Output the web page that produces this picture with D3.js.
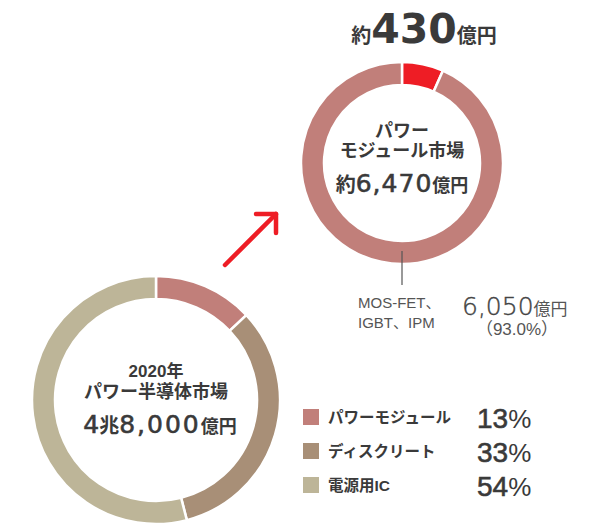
<!DOCTYPE html>
<html>
<head>
<meta charset="utf-8">
<script src="https://cdn.jsdelivr.net/npm/d3@7"></script>
<style>
  body { margin: 0; background: #fff; }
  svg text { font-family: "Liberation Sans", "Noto Sans CJK JP", sans-serif; fill: #3a3a3a; }
  svg .num { font-family: "DejaVu Sans", sans-serif; }
</style>
</head>
<body>
<div id="chart"></div>
<script>
// 2020 power semiconductor market
var marketLabels = ["パワーモジュール", "ディスクリート", "電源用IC"];
var marketShares = [13, 33, 54];
var marketColors = ["#c17f7a", "#a88f77", "#bdb598"];

// power module market breakdown (億円)
var moduleLabels = ["その他", "MOS-FET、IGBT、IPM"];
var moduleValues = [430, 6050];
var moduleColors = ["#ee1d25", "#c17f7a"];

var width = 611, height = 529;

var svg = d3.select("#chart")
    .append("svg")
    .attr("width", width)
    .attr("height", height);

var pie = d3.pie().sort(null).value(function(d){ return d; });

// ---- bottom donut
var big = svg.append("g")
    .attr("transform", "translate(156, 400)");

var bigArc = d3.arc().innerRadius(101).outerRadius(124);

big.selectAll("path")
    .data(pie(marketShares))
    .enter()
    .append("path")
        .attr("d", bigArc)
        .attr("fill", function(d, i){ return marketColors[i]; })
        .attr("stroke", "#fff")
        .attr("stroke-width", 2.5);

big.append("text")
    .attr("y", -23)
    .attr("text-anchor", "middle")
    .attr("font-size", "17px")
    .attr("font-weight", "bold")
    .text("2020年");
big.append("text")
    .attr("y", -2)
    .attr("text-anchor", "middle")
    .attr("font-size", "18px")
    .attr("font-weight", "bold")
    .text("パワー半導体市場");
var totalText = big.append("text")
    .attr("x", 4)
    .attr("y", 33)
    .attr("text-anchor", "middle");
totalText.append("tspan").attr("class", "num").attr("font-size", "25px")
    .attr("stroke", "#3a3a3a").attr("stroke-width", 0.6).text("4");
totalText.append("tspan").attr("font-size", "20px").attr("font-weight", "bold").text("兆");
totalText.append("tspan").attr("class", "num").attr("font-size", "25px").attr("letter-spacing", "2px")
    .attr("stroke", "#3a3a3a").attr("stroke-width", 0.6).text("8,000");
totalText.append("tspan").attr("font-size", "18px").attr("font-weight", "bold").text("億円");

// ---- top donut
var small = svg.append("g")
    .attr("transform", "translate(402, 163)");

var smallArc = d3.arc().innerRadius(78).outerRadius(101);

small.selectAll("path")
    .data(pie(moduleValues))
    .enter()
    .append("path")
        .attr("d", smallArc)
        .attr("fill", function(d, i){ return moduleColors[i]; })
        .attr("stroke", "#fff")
        .attr("stroke-width", 2.5);

small.append("text")
    .attr("y", -26)
    .attr("text-anchor", "middle")
    .attr("font-size", "18px")
    .attr("font-weight", "bold")
    .text("パワー");
small.append("text")
    .attr("y", -6)
    .attr("text-anchor", "middle")
    .attr("font-size", "18px")
    .attr("font-weight", "bold")
    .text("モジュール市場");
var modText = small.append("text")
    .attr("y", 29)
    .attr("text-anchor", "middle");
modText.append("tspan").attr("font-size", "20px").attr("font-weight", "bold").text("約");
modText.append("tspan").attr("class", "num").attr("font-size", "25px").attr("letter-spacing", "1px")
    .attr("stroke", "#3a3a3a").attr("stroke-width", 0.6).text("6,470");
modText.append("tspan").attr("font-size", "18px").attr("font-weight", "bold").text("億円");

// headline above top donut
var head = svg.append("text")
    .attr("x", 424)
    .attr("y", 43)
    .attr("text-anchor", "middle");
head.append("tspan").attr("font-size", "20px").attr("font-weight", "bold").text("約");
head.append("tspan").attr("class", "num").attr("font-size", "41px").attr("font-weight", "bold").text("430");
head.append("tspan").attr("font-size", "20px").attr("font-weight", "bold").text("億円");

// leader line to the big slice label
small.append("line")
    .attr("x1", 0).attr("x2", 0)
    .attr("y1", 88).attr("y2", 122)
    .attr("stroke", "#555")
    .attr("stroke-width", 1.2);

svg.append("text")
    .attr("x", 358).attr("y", 308)
    .attr("font-size", "15px")
    .style("fill", "#555")
    .text("MOS-FET、");
svg.append("text")
    .attr("x", 358).attr("y", 328)
    .attr("font-size", "15px")
    .style("fill", "#555")
    .text("IGBT、IPM");
var val = svg.append("text")
    .attr("x", 462).attr("y", 315);
val.append("tspan").attr("class", "num").attr("font-size", "25px").attr("font-weight", 200)
    .attr("stroke", "#444").attr("stroke-width", 0.4).style("fill", "#444").text("6,050");
val.append("tspan").attr("font-size", "17px").style("fill", "#555").text("億円");
svg.append("text")
    .attr("x", 517).attr("y", 335)
    .attr("text-anchor", "middle")
    .attr("font-size", "17px")
    .style("fill", "#555")
    .text("（93.0%）");

// arrow
var arrow = svg.append("g")
    .attr("stroke", "#ee1d25")
    .attr("stroke-width", 4.5)
    .attr("stroke-linecap", "round")
    .attr("stroke-linejoin", "round")
    .attr("fill", "none");
arrow.append("line").attr("x1", 225).attr("y1", 265).attr("x2", 276).attr("y2", 214);
arrow.append("polyline").attr("points", "256,214 276,214 276,233");

// legend
var legend = svg.selectAll(".legend")
    .data(marketLabels)
    .enter()
    .append("g")
        .attr("class", "legend")
        .attr("transform", function(d, i){ return "translate(303, " + (417 + i * 34) + ")"; });

legend.append("rect")
    .attr("x", 0).attr("y", -8)
    .attr("width", 16).attr("height", 16)
    .attr("fill", function(d, i){ return marketColors[i]; });

legend.append("text")
    .attr("x", 25).attr("y", 6)
    .attr("font-size", "15.5px")
    .attr("font-weight", "bold")
    .text(function(d){ return d; });

var pct = legend.append("text")
    .attr("x", 174).attr("y", 11);
pct.append("tspan")
    .attr("font-size", "28px")
    .attr("stroke", "#3a3a3a")
    .attr("stroke-width", 0.6)
    .text(function(d, i){ return marketShares[i]; });
pct.append("tspan")
    .attr("font-size", "26px")
    .text("%");
</script>
</body>
</html>
